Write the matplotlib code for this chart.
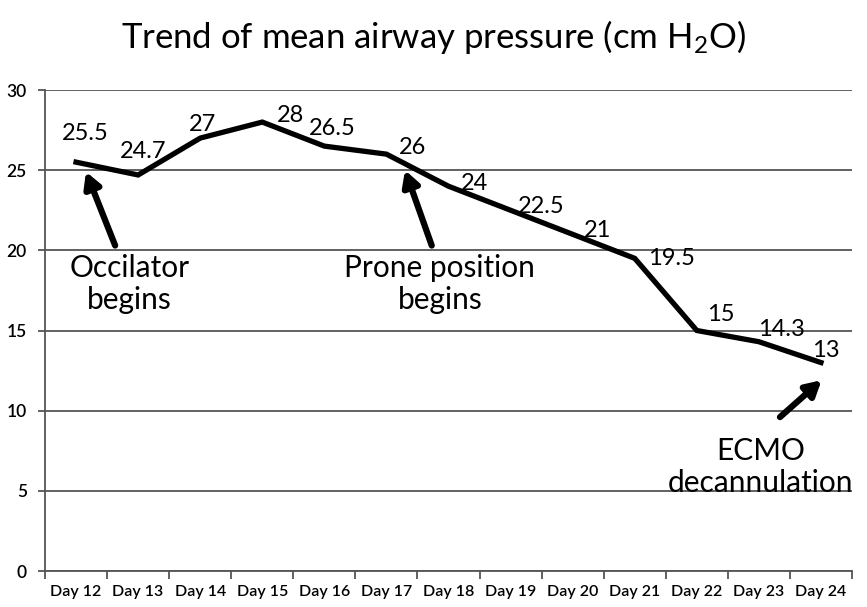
import matplotlib
matplotlib.use("Agg")
import matplotlib.pyplot as plt
import numpy as np

days = ["Day 12", "Day 13", "Day 14", "Day 15", "Day 16", "Day 17", "Day 18",
        "Day 19", "Day 20", "Day 21", "Day 22", "Day 23", "Day 24"]
pressure = [25.5, 24.7, 27, 28, 26.5, 26, 24, 22.5, 21, 19.5, 15, 14.3, 13]
value_labels = ["25.5", "24.7", "27", "28", "26.5", "26", "24", "22.5", "21",
                "19.5", "15", "14.3", "13"]

# label offsets in pixels (dx, dy)
label_offsets = [(9, 29), (5, 23), (2, 14), (28, 7), (8, 18), (26, 7), (26, 3),
                 (31, 4), (25, 4), (37, 0), (24, 16), (23, 12), (5, 12)]

plt.rcParams['font.family'] = ['Lato', 'DejaVu Sans']
plt.rcParams['mathtext.default'] = 'regular'

fig = plt.figure(figsize=(8.67, 6.07), dpi=100)
ax = fig.add_axes([45/867, 1-571/607, (852-45)/867, (571-90)/607])

x = np.arange(len(days))
ax.plot(x, pressure, color='black', lw=3.8, solid_joinstyle='miter', zorder=3)

for xi, yi, lab, off in zip(x, pressure, value_labels, label_offsets):
    ax.annotate(lab, (xi, yi), xytext=off, textcoords='offset pixels',
                ha='center', va='center', fontsize=17, zorder=4)

ax.set_xlim(-0.5, len(days) - 0.5)
ax.set_ylim(0, 30)
ax.set_yticks(np.arange(0, 31, 5))
ax.yaxis.grid(True, color='#555555', lw=1.3)
ax.set_axisbelow(True)

ax.set_xticks(np.arange(-0.5, len(days), 1.0))
ax.set_xticklabels([])
ax.set_xticks(x, minor=True)
ax.set_xticklabels(days, minor=True, fontsize=11.5, fontweight='semibold')
ax.tick_params(axis='x', which='major', direction='out', length=6, width=1.3, color='#555555')
ax.tick_params(axis='x', which='minor', length=0, pad=10)
ax.tick_params(axis='y', direction='out', length=5, width=1.3, color='#555555',
               labelsize=12.5, pad=8)
for t in ax.get_yticklabels():
    t.set_fontweight('semibold')

for s in ['top', 'right']:
    ax.spines[s].set_visible(False)
for s in ['left', 'bottom']:
    ax.spines[s].set_color('#555555')
    ax.spines[s].set_linewidth(1.3)

arrow = dict(arrowstyle='-|>,head_length=0.9,head_width=0.5', color='black', lw=4.5,
             shrinkA=0, shrinkB=0)
ax.annotate("", xy=(0.16, 24.9), xytext=(0.63, 20.3), arrowprops=arrow)
ax.annotate("", xy=(5.30, 25.0), xytext=(5.73, 20.3), arrowprops=arrow)
ax.annotate("", xy=(12.01, 11.9), xytext=(11.34, 9.6), arrowprops=arrow)

ax.text(0.86, 17.9, "Occilator\nbegins", ha='center', va='center', fontsize=21.5,
        linespacing=1.15)
ax.text(5.86, 17.9, "Prone position\nbegins", ha='center', va='center', fontsize=21.5,
        linespacing=1.15)
ax.text(11.03, 6.5, "ECMO\ndecannulation", ha='center', va='center', fontsize=21.5,
        linespacing=1.15, clip_on=False)

fig.text(0.5, 1-37/607, "Trend of mean airway pressure (cm H$_2$O)", ha='center',
         va='center', fontsize=25)

fig.savefig("out.png", dpi=100)
